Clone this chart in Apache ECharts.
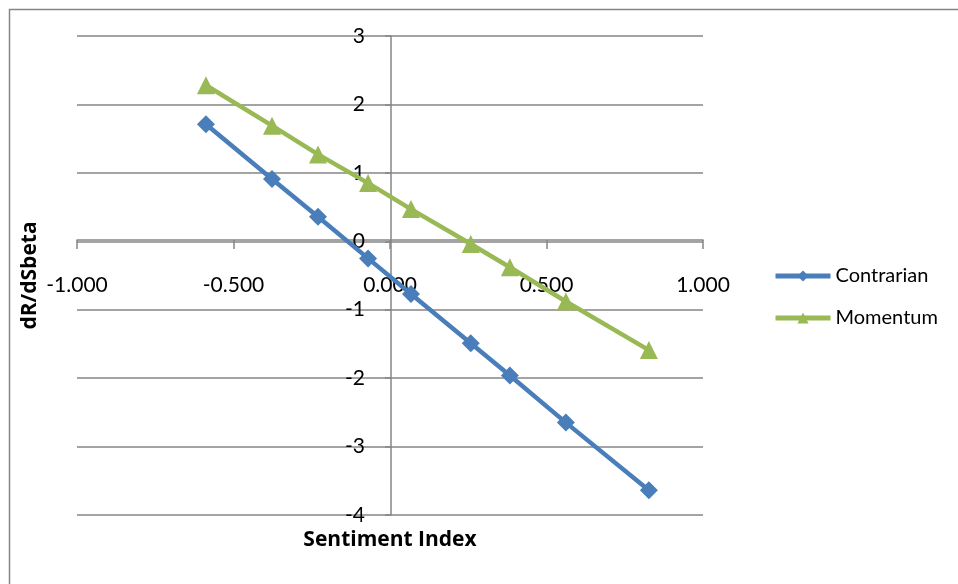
<!DOCTYPE html>
<html>
<head>
<meta charset="utf-8">
<script src="https://cdn.jsdelivr.net/npm/echarts@6/dist/echarts.min.js"></script>
<style>
  html, body { margin: 0; padding: 0; background: #fff; }
  #chart { width: 958px; height: 584px; }
</style>
</head>
<body>
<div id="chart"></div>
<script>
// sentiment index values (x) and dR/dSbeta (y)
var sentimentX = [-0.588, -0.377, -0.230, -0.070, 0.067, 0.258, 0.383, 0.562, 0.827];
var contrarian = [1.71, 0.91, 0.36, -0.25, -0.77, -1.49, -1.96, -2.65, -3.64];
var momentum = [2.28, 1.69, 1.27, 0.85, 0.47, -0.04, -0.38, -0.88, -1.59];
var seriesNames = ["Contrarian", "Momentum"];

var fontFamily = "Lato, 'Open Sans', sans-serif";
var nameFont = "'Open Sans', Lato, sans-serif";
var axisGray = "#868686";

function pairs(ys) {
  return sentimentX.map(function (x, i) { return [x, ys[i]]; });
}

var chart = echarts.init(document.getElementById("chart"));
chart.setOption({
  animation: false,
  textStyle: { fontFamily: fontFamily },
  graphic: [{
    type: "rect",
    shape: { x: 9.5, y: 9.5, width: 1000, height: 700 },
    style: { fill: null, stroke: axisGray, lineWidth: 1.5 },
    silent: true
  }],
  grid: { left: 77, right: 255, top: 36, bottom: 69, containLabel: false, outerBoundsMode: "none" },
  legend: {
    orient: "vertical",
    left: 773,
    top: 266,
    padding: 0,
    itemWidth: 55,
    itemHeight: 14,
    itemGap: 22,
    lineStyle: { width: 5 },
    textStyle: { fontSize: 20, color: "#000", fontFamily: fontFamily },
    data: seriesNames
  },
  xAxis: {
    type: "value",
    min: -1,
    max: 1,
    interval: 0.5,
    position: "bottom",
    // move the axis up from the grid bottom (y=-4) to y=0
    offset: -275,
    name: "Sentiment Index",
    nameLocation: "middle",
    nameGap: 290,
    nameMoveOverlap: false,
    nameTextStyle: { fontSize: 21, fontWeight: "bold", color: "#000", fontFamily: nameFont },
    axisLine: { onZero: false, lineStyle: { color: axisGray, width: 1.5 } },
    axisTick: { show: true, length: 9, lineStyle: { color: axisGray, width: 1.5 } },
    axisLabel: {
      margin: 35,
      fontSize: 21,
      color: "#000",
      formatter: function (v) { return v.toFixed(3); }
    },
    splitLine: { show: false }
  },
  yAxis: {
    type: "value",
    min: -4,
    max: 3,
    interval: 1,
    position: "left",
    // move the axis right from the grid left (x=-1) to x=0
    offset: -314,
    name: "dR/dSbeta",
    nameLocation: "middle",
    nameGap: 350,
    nameMoveOverlap: false,
    nameTextStyle: { fontSize: 21, fontWeight: "bold", color: "#000", fontFamily: nameFont },
    axisLine: { onZero: false, lineStyle: { color: axisGray, width: 1.5 } },
    axisTick: { show: true, length: 6, lineStyle: { color: axisGray, width: 1.5 } },
    axisLabel: { margin: 26, fontSize: 21, color: "#000", padding: [8, 0, 0, 0] },
    splitLine: { show: true, lineStyle: { color: axisGray, width: 1.5 } }
  },
  series: [{
    name: seriesNames[0],
    type: "line",
    data: pairs(contrarian),
    symbol: "diamond",
    symbolSize: 18,
    itemStyle: { color: "#4a7ebb" },
    lineStyle: { color: "#4a7ebb", width: 4.5 }
  }, {
    name: seriesNames[1],
    type: "line",
    data: pairs(momentum),
    symbol: "triangle",
    symbolSize: 18,
    itemStyle: { color: "#98b954" },
    lineStyle: { color: "#98b954", width: 4.5 }
  }]
});
</script>
</body>
</html>
